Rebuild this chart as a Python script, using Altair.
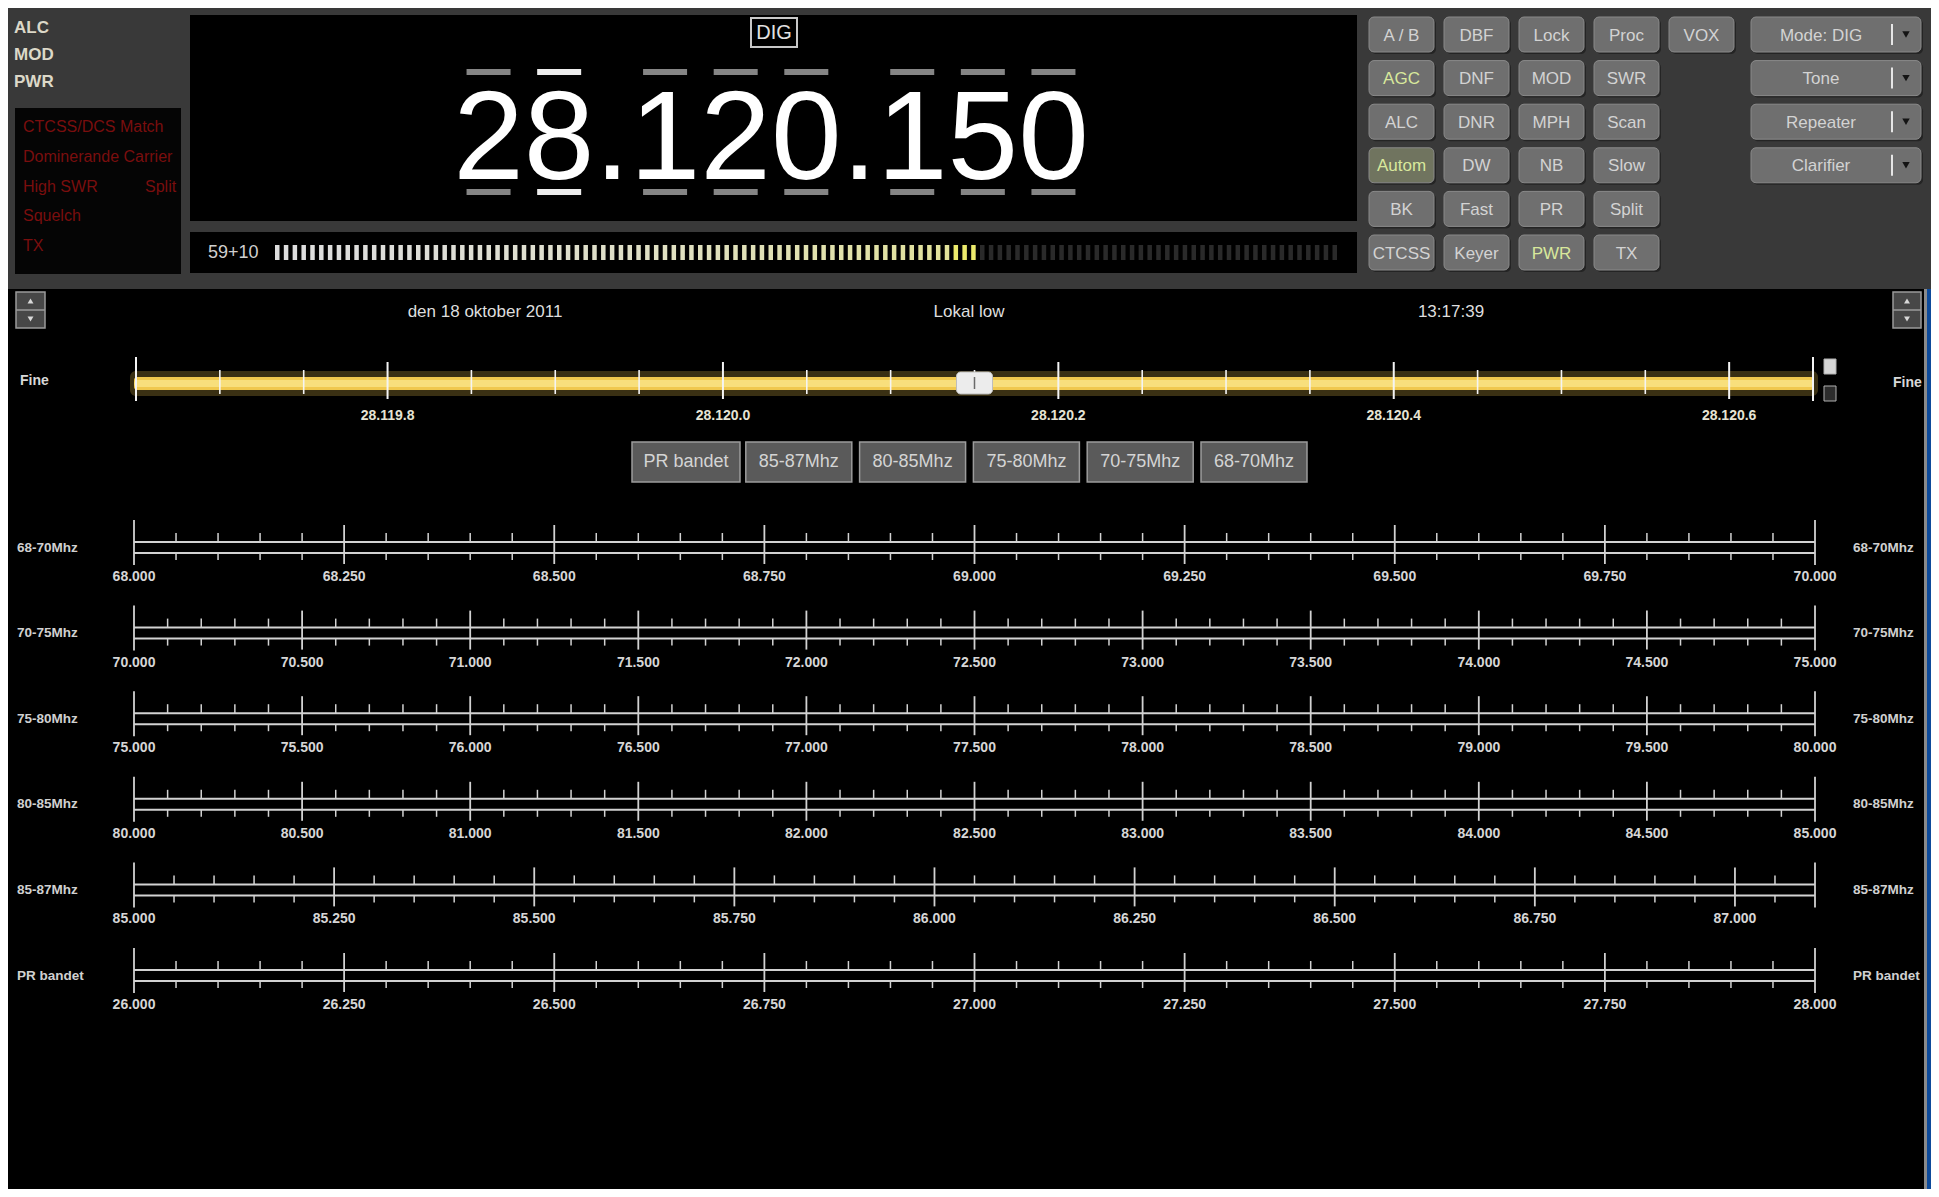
import altair as alt
import numpy as np
import pandas as pd

# ---------------- values ----------------
status_labels = ["ALC", "MOD", "PWR"]
alarm_labels = ["CTCSS/DCS Match", "Dominerande Carrier", "High SWR", "Squelch", "TX"]
alarm_side_label = "Split"
mode_tag = "DIG"
freq_text = "28.120.150"
selected_digit = 1
smeter_label = "59+10"
smeter_segments = 121
smeter_lit = 80
button_grid = [
    ["A / B", "DBF", "Lock", "Proc", "VOX"],
    ["AGC", "DNF", "MOD", "SWR"],
    ["ALC", "DNR", "MPH", "Scan"],
    ["Autom", "DW", "NB", "Slow"],
    ["BK", "Fast", "PR", "Split"],
    ["CTCSS", "Keyer", "PWR", "TX"],
]
active_buttons = ["AGC", "Autom", "PWR"]
dropdown_labels = ["Mode: DIG", "Tone", "Repeater", "Clarifier"]
header_texts = ["den 18 oktober 2011", "Lokal low", "13:17:39"]
fine_domain = [28.11965, 28.12065]
fine_step = 0.00005
fine_major_step = 0.0002
fine_value = 28.12015
band_buttons = ["PR bandet", "85-87Mhz", "80-85Mhz", "75-80Mhz", "70-75Mhz", "68-70Mhz"]
ruler_names = ["68-70Mhz", "70-75Mhz", "75-80Mhz", "80-85Mhz", "85-87Mhz", "PR bandet"]
ruler_lo = [68.0, 70.0, 75.0, 80.0, 85.0, 26.0]
ruler_hi = [70.0, 75.0, 80.0, 85.0, 87.1, 28.0]
ruler_major = [0.25, 0.5, 0.5, 0.5, 0.25, 0.25]
ruler_minor = [0.05, 0.1, 0.1, 0.1, 0.05, 0.05]

# ---------------- layout (image pixel space) ----------------
W, H = 1923, 1181
OFF = 8
FONT = "Liberation Sans, Arial, Helvetica, sans-serif"
XS = alt.Scale(domain=[OFF, OFF + W], range=[0, W], nice=False, zero=False)
YS = alt.Scale(domain=[OFF, OFF + H], range=[0, H], nice=False, zero=False)
RX0, RX1 = 134, 1815
FX0, FX1 = 136, 1813


def enc_box(xs=XS):
    return dict(x=alt.X("x0:Q", scale=xs, axis=None), x2=alt.X2("x1:Q"),
                y=alt.Y("y0:Q", scale=YS, axis=None), y2=alt.Y2("y1:Q"))


def rect_layer(df, xs=XS, **kw):
    enc = enc_box(xs)
    if "fill" in df.columns:
        enc["fill"] = alt.Fill("fill:N", scale=None)
    return alt.Chart(df).mark_rect(**kw).encode(**enc)


def rule_layer(df, xs=XS, **kw):
    enc = enc_box(xs)
    if "color" in df.columns:
        enc["color"] = alt.Color("color:N", scale=None)
    if "w" in df.columns:
        enc["strokeWidth"] = alt.StrokeWidth("w:Q", scale=None)
    return alt.Chart(df).mark_rule(**kw).encode(**enc)


def text_layer(df, xs=XS, **kw):
    kw.setdefault("font", FONT)
    kw.setdefault("baseline", "middle")
    enc = dict(x=alt.X("x:Q", scale=xs, axis=None), y=alt.Y("y:Q", scale=YS, axis=None),
               text=alt.Text("text:N"))
    if "color" in df.columns:
        enc["color"] = alt.Color("color:N", scale=None)
    return alt.Chart(df).mark_text(**kw).encode(**enc)


def point_layer(df, **kw):
    enc = dict(x=alt.X("x:Q", scale=XS, axis=None), y=alt.Y("y:Q", scale=YS, axis=None),
               shape=alt.Shape("shape:N", scale=None))
    return alt.Chart(df).mark_point(**kw).encode(**enc)


def mix(c1, c2, t):
    a = [int(c1[i:i + 2], 16) for i in (1, 3, 5)]
    b = [int(c2[i:i + 2], 16) for i in (1, 3, 5)]
    return "#" + "".join(f"{int(round(x + (y - x) * t)):02x}" for x, y in zip(a, b))


layers = []

# panels
panels = pd.DataFrame([
    dict(x0=8, x1=1931, y0=8, y1=289, fill="#393939"),
    dict(x0=8, x1=1931, y0=289, y1=1189, fill="#000000"),
    dict(x0=1924, x1=1927, y0=289, y1=1189, fill="#8a8a8a"),
    dict(x0=1927, x1=1931, y0=289, y1=1189, fill="#0d4a9a"),
    dict(x0=190, x1=1357, y0=15, y1=221, fill="#000000"),
    dict(x0=190, x1=1357, y0=232, y1=273, fill="#000000"),
    dict(x0=15, x1=181, y0=108, y1=274, fill="#050505"),
])
layers.append(rect_layer(panels))

# status + alarms
layers.append(text_layer(pd.DataFrame(dict(
    x=[14] * len(status_labels), y=[28 + 27 * i for i in range(len(status_labels))],
    text=status_labels)), align="left", fontSize=17, fontWeight="bold", color="#dcd8c8"))
al_x = [23] * len(alarm_labels) + [145]
al_y = [127 + 29.75 * i for i in range(len(alarm_labels))] + [127 + 29.75 * 2]
layers.append(text_layer(pd.DataFrame(dict(x=al_x, y=al_y, text=alarm_labels + [alarm_side_label])),
                         align="left", fontSize=16, color="#7a0e0e"))

# DIG tag
layers.append(rect_layer(pd.DataFrame([dict(x0=751, x1=797, y0=18, y1=47)]),
                         fillOpacity=0, stroke="#c8c8c8", strokeWidth=2))
layers.append(text_layer(pd.DataFrame(dict(x=[774], y=[33], text=[mode_tag])),
                         align="center", fontSize=20, color="#e2e2e2"))

# frequency readout: one string, digit marks placed from the font's advance widths
F_SIZE = 127
ADV_DIGIT, ADV_DOT = 0.556 * F_SIZE, 0.278 * F_SIZE
total = sum(ADV_DOT if ch == "." else ADV_DIGIT for ch in freq_text)
F_CENTER = 771
xcur = F_CENTER - total / 2
bar_rows = []
d = 0
for ch in freq_text:
    if ch == ".":
        xcur += ADV_DOT
        continue
    xc = xcur + ADV_DIGIT / 2
    col = "#ececec" if d == selected_digit else "#858585"
    for (y0, y1) in [(69, 75), (189, 195)]:
        bar_rows.append(dict(x0=xc - 22, x1=xc + 22, y0=y0, y1=y1, fill=col))
    xcur += ADV_DIGIT
    d += 1
layers.append(rect_layer(pd.DataFrame(bar_rows)))
layers.append(text_layer(pd.DataFrame(dict(x=[F_CENTER], y=[179], text=[freq_text])),
                         align="center", baseline="alphabetic", fontSize=F_SIZE, color="#ffffff"))

# S-meter
layers.append(text_layer(pd.DataFrame(dict(x=[208], y=[253], text=[smeter_label])),
                         align="left", fontSize=18, color="#cfcfcf"))
pitch = (1337 - 275 - 4.5) / (smeter_segments - 1)
seg = []
for i in range(smeter_segments):
    x0 = 275 + i * pitch
    if i < smeter_lit:
        t = i / (smeter_lit - 1)
        col = mix("#dedede", "#e2e296", t ** 1.6)
        if i >= smeter_lit - 3:
            col = "#ecea6c"
    else:
        col = "#2a2a2a"
    seg.append(dict(x0=x0, x1=x0 + 4.5, y0=245, y1=260, fill=col))
layers.append(rect_layer(pd.DataFrame(seg)))

# buttons
BTN_X0, BTN_DX, BTN_W = 1369, 75, 65
BTN_Y0, BTN_DY, BTN_H = 17, 43.6, 35
DD_X0, DD_X1 = 1751, 1921
btn, btn_txt, shadows = [], [], []
for r, row in enumerate(button_grid):
    for c, lab in enumerate(row):
        x0 = BTN_X0 + BTN_DX * c
        y0 = BTN_Y0 + BTN_DY * r
        active = lab in active_buttons
        btn.append(dict(x0=x0, x1=x0 + BTN_W, y0=y0, y1=y0 + BTN_H,
                        fill="#70745f" if active and lab == "Autom" else "#6f6f6f"))
        shadows.append(dict(x0=x0 + 2, x1=x0 + BTN_W + 2, y0=y0 + 2, y1=y0 + BTN_H + 2, fill="#242424"))
        btn_txt.append(dict(x=x0 + BTN_W / 2, y=y0 + BTN_H / 2 + 1, text=lab,
                            color="#d8e89c" if active else "#d3d3d3"))
dd_sep, dd_arrow = [], []
for r, lab in enumerate(dropdown_labels):
    y0 = BTN_Y0 + BTN_DY * r
    btn.append(dict(x0=DD_X0, x1=DD_X1, y0=y0, y1=y0 + BTN_H, fill="#6f6f6f"))
    shadows.append(dict(x0=DD_X0 + 2, x1=DD_X1 + 2, y0=y0 + 2, y1=y0 + BTN_H + 2, fill="#242424"))
    btn_txt.append(dict(x=1821, y=y0 + BTN_H / 2 + 1, text=lab, color="#d3d3d3"))
    dd_sep.append(dict(x0=1892, x1=1892, y0=y0 + 7, y1=y0 + BTN_H - 7, color="#e6e6e6", w=2))
    dd_arrow.append(dict(x=1906, y=y0 + BTN_H / 2, shape="triangle-down"))
layers.append(rect_layer(pd.DataFrame(shadows), cornerRadius=5))
layers.append(rect_layer(pd.DataFrame(btn), cornerRadius=5, stroke="#8a8a8a", strokeWidth=1))
layers.append(text_layer(pd.DataFrame(btn_txt), align="center", fontSize=17))
layers.append(rule_layer(pd.DataFrame(dd_sep)))
layers.append(point_layer(pd.DataFrame(dd_arrow), filled=True, size=55, color="#141414", opacity=1))

# spinners
spin, spin_line, spin_arrow = [], [], []
for (x0, x1) in [(16, 45), (1893, 1921)]:
    spin.append(dict(x0=x0, x1=x1, y0=292, y1=328, fill="#474747"))
    spin_line.append(dict(x0=x0, x1=x1, y0=310, y1=310, color="#9a9a9a", w=1.5))
    spin_arrow.append(dict(x=(x0 + x1) / 2, y=301, shape="triangle-up"))
    spin_arrow.append(dict(x=(x0 + x1) / 2, y=319, shape="triangle-down"))
layers.append(rect_layer(pd.DataFrame(spin), stroke="#9a9a9a", strokeWidth=1.5))
layers.append(rule_layer(pd.DataFrame(spin_line)))
layers.append(point_layer(pd.DataFrame(spin_arrow), filled=True, size=35, color="#d8d8d8", opacity=1))

# header line
layers.append(text_layer(pd.DataFrame(dict(x=[485, 969, 1451], y=[312] * 3, text=header_texts)),
                         align="center", fontSize=17, color="#dedede"))

# fine tuning slider
layers.append(rect_layer(pd.DataFrame([
    dict(x0=130, x1=1818, y0=371, y1=396, fill="#e8c04a"),
]), opacity=0.25, cornerRadius=6))
layers.append(rect_layer(pd.DataFrame([
    dict(x0=134, x1=1814, y0=377, y1=390, fill="#f0c84e"),
    dict(x0=134, x1=1814, y0=380, y1=387, fill="#f8df7c"),
]), cornerRadius=3))
FS = alt.Scale(domain=fine_domain, range=[FX0 - OFF, FX1 - OFF], nice=False, zero=False)
n_f = int(round((fine_domain[1] - fine_domain[0]) / fine_step))
f_ticks, f_labels = [], []
for k in range(n_f + 1):
    v = round(fine_domain[0] + k * fine_step, 5)
    q = (v - 28.1198) / fine_major_step
    major = abs(q - round(q)) < 1e-4
    if k == 0 or k == n_f:
        f_ticks.append(dict(x0=v, x1=v, y0=357, y1=401, w=2))
    elif major:
        f_ticks.append(dict(x0=v, x1=v, y0=362, y1=399, w=2))
    else:
        f_ticks.append(dict(x0=v, x1=v, y0=370, y1=394, w=1.6))
    if major:
        s = f"{v:.4f}"
        f_labels.append(dict(x=v, y=416, text=s[:-1] + "." + s[-1]))
layers.append(rule_layer(pd.DataFrame(f_ticks), xs=FS, color="#f4f4f4"))
layers.append(text_layer(pd.DataFrame(f_labels), xs=FS, align="center", fontSize=14,
                         fontWeight="bold", color="#e6e4d4"))
half = 18 * (fine_domain[1] - fine_domain[0]) / (FX1 - FX0)
layers.append(rect_layer(pd.DataFrame([dict(x0=fine_value - half, x1=fine_value + half, y0=372, y1=394,
                                            fill="#ececec")]), xs=FS, cornerRadius=4,
                         stroke="#bdbdbd", strokeWidth=1))
layers.append(rule_layer(pd.DataFrame([dict(x0=fine_value, x1=fine_value, y0=377, y1=389)]), xs=FS,
                         color="#6a6a6a", strokeWidth=1.5))
layers.append(rect_layer(pd.DataFrame([
    dict(x0=1824, x1=1836, y0=359, y1=374, fill="#d6d6d6"),
    dict(x0=1824, x1=1836, y0=386, y1=401, fill="#2c2c2c"),
]), stroke="#b0b0b0", strokeWidth=1))
layers.append(text_layer(pd.DataFrame(dict(x=[20, 1893], y=[381, 383], text=["Fine", "Fine"])),
                         align="left", fontSize=14, fontWeight="bold", color="#d8d8d8"))

# band selector buttons
bb, bb_txt = [], []
for i, lab in enumerate(band_buttons):
    x0 = 632 + 113.8 * i
    w = 108 if i == 0 else 106
    bb.append(dict(x0=x0, x1=x0 + w, y0=442, y1=482, fill="#5a5a5a"))
    bb_txt.append(dict(x=x0 + w / 2, y=462, text=lab))
layers.append(rect_layer(pd.DataFrame(bb), stroke="#9c9c9c", strokeWidth=1.5))
layers.append(text_layer(pd.DataFrame(bb_txt), align="center", fontSize=18, color="#d4d4d4"))

# band rulers
RY0, RDY = 547.5, 85.6
name_rows = []
for r in range(len(ruler_names)):
    lo, hi, mj, mn = ruler_lo[r], ruler_hi[r], ruler_major[r], ruler_minor[r]
    n = int(round((hi - lo) / mn))
    yc = RY0 + RDY * r
    yu, yl = yc - 5.5, yc + 5.5
    segs = [dict(x0=lo, x1=hi, y0=yu, y1=yu, w=2), dict(x0=lo, x1=hi, y0=yl, y1=yl, w=2)]
    labs = []
    for k in range(n + 1):
        v = round(lo + k * mn, 4)
        q = v / mj
        major = abs(q - round(q)) < 1e-6
        if k == 0 or k == n:
            segs.append(dict(x0=v, x1=v, y0=yu - 22, y1=yl + 12, w=1.8))
        elif major:
            segs.append(dict(x0=v, x1=v, y0=yu - 17, y1=yl + 11, w=1.8))
        else:
            segs.append(dict(x0=v, x1=v, y0=yu - 9, y1=yu, w=1.5))
            segs.append(dict(x0=v, x1=v, y0=yl, y1=yl + 7, w=1.5))
        if major:
            labs.append(dict(x=v, y=yc + 29.5, text=f"{v:.3f}"))
    RS = alt.Scale(domain=[lo, hi], range=[RX0 - OFF, RX1 - OFF], nice=False, zero=False)
    layers.append(rule_layer(pd.DataFrame(segs), xs=RS, color="#d2d2d2"))
    layers.append(text_layer(pd.DataFrame(labs), xs=RS, align="center", fontSize=14,
                             fontWeight="bold", color="#d6d6d6"))
    name_rows.append(dict(x=17, y=yc, text=ruler_names[r]))
    name_rows.append(dict(x=1853, y=yc, text=ruler_names[r]))
layers.append(text_layer(pd.DataFrame(name_rows), align="left", fontSize=13.5, fontWeight="bold",
                         color="#d0d0d0"))

chart = (
    alt.layer(*layers)
    .resolve_scale(x="independent")
    .properties(width=W, height=H, padding=0, background="#000000",
                autosize=alt.AutoSizeParams(type="none"))
    .configure_view(strokeWidth=0)
)

chart.save("out.html", embed_options={"renderer": "svg", "actions": False})
